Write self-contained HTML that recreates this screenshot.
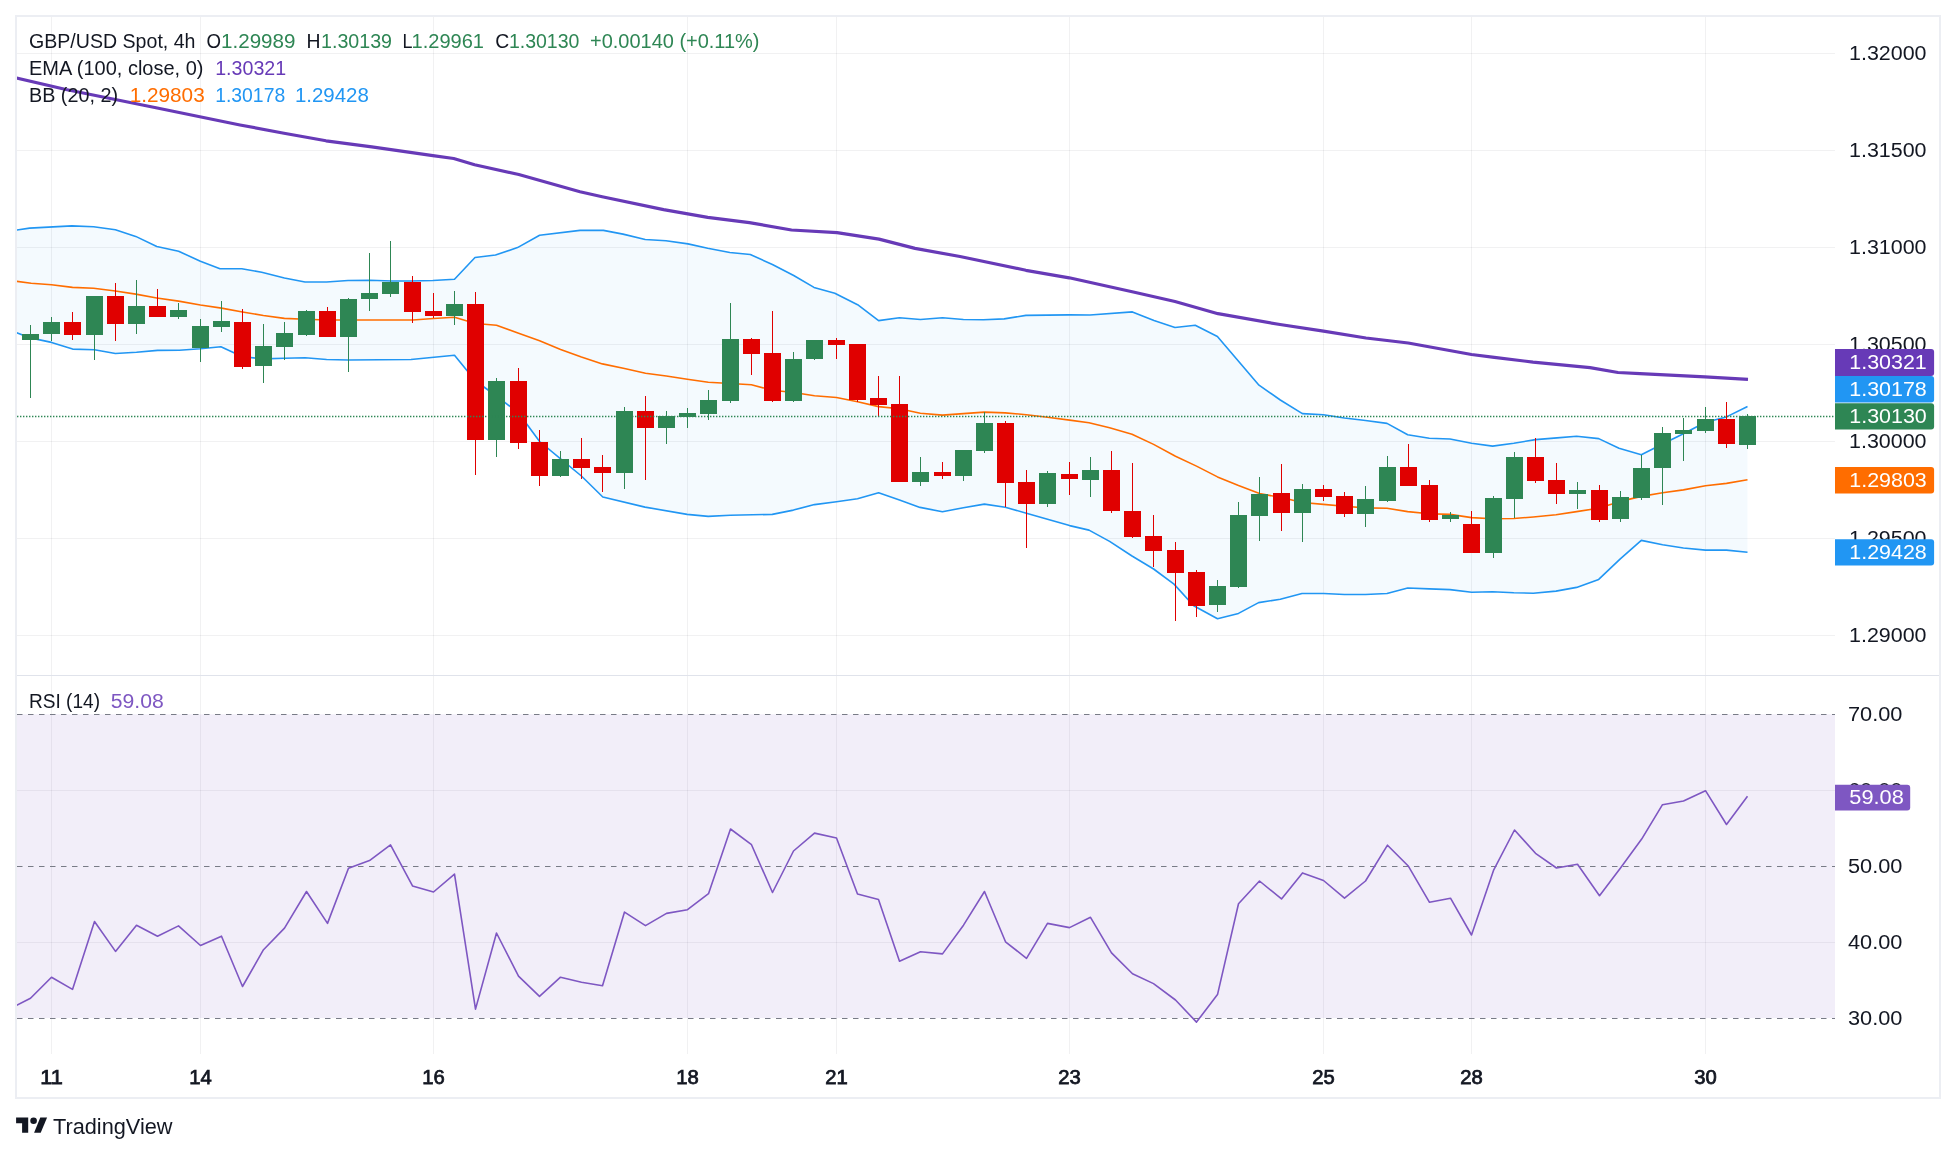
<!DOCTYPE html><html><head><meta charset="utf-8"><title>GBP/USD Spot 4h</title><style>
html,body{margin:0;padding:0;background:#fff;}body{width:1956px;height:1154px;overflow:hidden;}
svg{display:block;font-family:"Liberation Sans",sans-serif;will-change:transform;}
</style></head><body>
<svg width="1956" height="1154" viewBox="0 0 1956 1154">
<rect x="0" y="0" width="1956" height="1154" fill="#ffffff"/>
<defs><clipPath id="cpMain"><rect x="17" y="17" width="1818" height="658"/></clipPath>
<clipPath id="cpRsi"><rect x="17" y="676" width="1818" height="378"/></clipPath></defs>
<line x1="51.5" y1="17" x2="51.5" y2="1054" stroke="rgba(42,46,57,0.065)" stroke-width="1"/>
<line x1="200.5" y1="17" x2="200.5" y2="1054" stroke="rgba(42,46,57,0.065)" stroke-width="1"/>
<line x1="433.5" y1="17" x2="433.5" y2="1054" stroke="rgba(42,46,57,0.065)" stroke-width="1"/>
<line x1="687.5" y1="17" x2="687.5" y2="1054" stroke="rgba(42,46,57,0.065)" stroke-width="1"/>
<line x1="836.5" y1="17" x2="836.5" y2="1054" stroke="rgba(42,46,57,0.065)" stroke-width="1"/>
<line x1="1069.5" y1="17" x2="1069.5" y2="1054" stroke="rgba(42,46,57,0.065)" stroke-width="1"/>
<line x1="1323.5" y1="17" x2="1323.5" y2="1054" stroke="rgba(42,46,57,0.065)" stroke-width="1"/>
<line x1="1471.5" y1="17" x2="1471.5" y2="1054" stroke="rgba(42,46,57,0.065)" stroke-width="1"/>
<line x1="1705.5" y1="17" x2="1705.5" y2="1054" stroke="rgba(42,46,57,0.065)" stroke-width="1"/>
<line x1="17" y1="53.5" x2="1835" y2="53.5" stroke="rgba(42,46,57,0.065)" stroke-width="1"/>
<line x1="17" y1="150.5" x2="1835" y2="150.5" stroke="rgba(42,46,57,0.065)" stroke-width="1"/>
<line x1="17" y1="247.5" x2="1835" y2="247.5" stroke="rgba(42,46,57,0.065)" stroke-width="1"/>
<line x1="17" y1="344.5" x2="1835" y2="344.5" stroke="rgba(42,46,57,0.065)" stroke-width="1"/>
<line x1="17" y1="441.5" x2="1835" y2="441.5" stroke="rgba(42,46,57,0.065)" stroke-width="1"/>
<line x1="17" y1="538.5" x2="1835" y2="538.5" stroke="rgba(42,46,57,0.065)" stroke-width="1"/>
<line x1="17" y1="635.5" x2="1835" y2="635.5" stroke="rgba(42,46,57,0.065)" stroke-width="1"/>
<line x1="17" y1="790.5" x2="1835" y2="790.5" stroke="rgba(42,46,57,0.065)" stroke-width="1"/>
<line x1="17" y1="942.5" x2="1835" y2="942.5" stroke="rgba(42,46,57,0.065)" stroke-width="1"/>
<g clip-path="url(#cpMain)">
<polygon points="16.0,230.1 29.6,228.1 71.8,225.9 93.6,226.7 115.4,229.7 135.7,236.4 156.8,246.5 178.6,251.2 200.4,261.3 220.0,268.8 241.8,268.8 261.7,272.2 284.4,278.0 305.0,282.0 326.6,282.0 348.0,280.5 370.0,280.3 391.6,281.0 411.0,281.0 432.8,280.5 454.5,279.2 475.0,257.5 495.5,255.0 517.5,247.6 539.6,235.3 580.0,230.4 603.4,230.4 623.0,234.1 645.2,239.5 666.0,240.7 688.0,243.9 707.7,248.3 729.8,252.5 750.3,254.5 772.4,264.5 793.7,275.5 814.0,287.4 834.8,293.3 857.6,304.7 878.6,320.6 899.4,317.7 920.4,319.5 942.5,317.7 963.4,319.5 983.4,319.7 1004.2,318.9 1025.9,315.4 1069.2,314.9 1090.0,315.0 1132.4,311.9 1154.0,320.6 1175.0,327.5 1195.2,325.3 1217.4,336.5 1259.0,385.2 1280.3,400.0 1302.4,413.6 1323.4,414.7 1344.4,418.0 1365.5,420.5 1387.0,423.4 1407.7,434.7 1429.3,438.3 1450.0,439.0 1471.6,443.3 1492.6,446.1 1513.8,443.3 1535.5,439.6 1557.0,437.9 1576.6,436.2 1598.7,438.6 1619.0,448.3 1641.3,454.8 1662.6,444.0 1683.4,433.8 1705.5,422.3 1726.5,416.9 1747.5,406.5 1747.5,552.3 1726.5,550.1 1705.5,550.1 1683.4,548.0 1662.6,544.7 1641.3,540.4 1620.3,558.8 1598.7,579.4 1576.6,587.4 1556.0,591.1 1533.3,593.2 1513.8,592.8 1492.6,591.7 1471.6,592.2 1450.0,589.6 1429.3,588.9 1407.7,588.0 1387.0,593.5 1365.5,594.5 1344.4,594.5 1323.6,593.5 1302.0,593.5 1280.3,599.3 1258.6,602.6 1238.5,613.4 1217.5,618.8 1193.7,605.8 1174.0,584.1 1153.6,569.0 1132.0,556.0 1109.6,541.4 1089.0,530.1 1069.6,525.6 1047.5,519.3 1026.4,513.2 1005.2,507.2 984.4,504.1 963.4,507.8 942.4,511.7 920.0,507.4 899.5,500.0 878.6,492.8 857.5,498.8 836.5,501.7 814.5,504.6 793.4,510.1 772.3,514.4 730.2,515.2 708.2,516.4 687.1,514.4 645.0,507.1 602.8,497.0 581.4,476.0 560.6,458.8 539.6,441.5 518.6,413.0 496.5,396.0 475.5,381.0 454.5,355.2 411.0,359.5 348.3,360.0 326.6,359.5 305.0,357.8 284.4,358.3 263.4,358.9 242.6,356.8 220.9,346.8 200.4,348.8 179.3,350.2 157.6,350.4 136.5,352.2 115.4,353.5 94.4,349.7 72.6,349.1 51.5,342.4 30.4,337.9 16.0,332.5" fill="rgba(33,150,243,0.05)"/>
<polyline points="16.0,281.3 31.2,283.2 51.5,284.7 72.5,287.4 93.6,288.2 115.4,291.0 135.7,294.1 156.8,298.0 178.6,301.1 200.4,305.0 221.5,308.1 242.5,312.0 263.4,315.5 284.4,318.4 305.0,319.3 326.6,320.0 348.0,320.0 413.0,320.0 433.5,318.5 454.5,317.3 475.5,323.5 496.5,325.3 518.6,333.2 539.6,340.7 560.6,349.4 581.4,357.0 602.4,363.9 624.5,368.5 645.5,373.2 666.3,376.0 687.3,379.3 708.3,382.3 730.4,383.5 751.4,384.7 772.4,390.3 793.7,392.5 814.5,395.7 836.5,397.5 857.6,401.8 878.6,406.6 899.4,408.7 920.4,413.3 942.4,415.1 963.4,413.6 984.4,412.1 1005.2,412.9 1026.4,414.7 1047.5,417.3 1069.6,420.1 1089.0,422.7 1109.6,427.7 1132.0,434.2 1153.6,444.4 1175.5,456.3 1196.5,466.1 1217.5,476.9 1238.5,485.6 1259.5,493.6 1281.4,497.5 1302.4,502.5 1323.4,504.4 1344.4,506.2 1365.5,507.9 1387.0,508.3 1407.7,511.6 1429.3,513.7 1450.0,514.4 1471.6,517.6 1492.6,518.7 1513.8,518.5 1533.3,517.0 1556.0,514.8 1576.6,511.6 1598.3,508.3 1620.3,501.4 1641.3,496.4 1662.6,492.7 1683.4,489.9 1705.5,485.8 1726.5,483.4 1747.5,479.7" fill="none" stroke="#ff6d00" stroke-width="1.6" stroke-linejoin="round"/>
<polyline points="16.0,230.1 29.6,228.1 71.8,225.9 93.6,226.7 115.4,229.7 135.7,236.4 156.8,246.5 178.6,251.2 200.4,261.3 220.0,268.8 241.8,268.8 261.7,272.2 284.4,278.0 305.0,282.0 326.6,282.0 348.0,280.5 370.0,280.3 391.6,281.0 411.0,281.0 432.8,280.5 454.5,279.2 475.0,257.5 495.5,255.0 517.5,247.6 539.6,235.3 580.0,230.4 603.4,230.4 623.0,234.1 645.2,239.5 666.0,240.7 688.0,243.9 707.7,248.3 729.8,252.5 750.3,254.5 772.4,264.5 793.7,275.5 814.0,287.4 834.8,293.3 857.6,304.7 878.6,320.6 899.4,317.7 920.4,319.5 942.5,317.7 963.4,319.5 983.4,319.7 1004.2,318.9 1025.9,315.4 1069.2,314.9 1090.0,315.0 1132.4,311.9 1154.0,320.6 1175.0,327.5 1195.2,325.3 1217.4,336.5 1259.0,385.2 1280.3,400.0 1302.4,413.6 1323.4,414.7 1344.4,418.0 1365.5,420.5 1387.0,423.4 1407.7,434.7 1429.3,438.3 1450.0,439.0 1471.6,443.3 1492.6,446.1 1513.8,443.3 1535.5,439.6 1557.0,437.9 1576.6,436.2 1598.7,438.6 1619.0,448.3 1641.3,454.8 1662.6,444.0 1683.4,433.8 1705.5,422.3 1726.5,416.9 1747.5,406.5" fill="none" stroke="#2196f3" stroke-width="1.6" stroke-linejoin="round"/>
<polyline points="16.0,332.5 30.4,337.9 51.5,342.4 72.6,349.1 94.4,349.7 115.4,353.5 136.5,352.2 157.6,350.4 179.3,350.2 200.4,348.8 220.9,346.8 242.6,356.8 263.4,358.9 284.4,358.3 305.0,357.8 326.6,359.5 348.3,360.0 411.0,359.5 454.5,355.2 475.5,381.0 496.5,396.0 518.6,413.0 539.6,441.5 560.6,458.8 581.4,476.0 602.8,497.0 645.0,507.1 687.1,514.4 708.2,516.4 730.2,515.2 772.3,514.4 793.4,510.1 814.5,504.6 836.5,501.7 857.5,498.8 878.6,492.8 899.5,500.0 920.0,507.4 942.4,511.7 963.4,507.8 984.4,504.1 1005.2,507.2 1026.4,513.2 1047.5,519.3 1069.6,525.6 1089.0,530.1 1109.6,541.4 1132.0,556.0 1153.6,569.0 1174.0,584.1 1193.7,605.8 1217.5,618.8 1238.5,613.4 1258.6,602.6 1280.3,599.3 1302.0,593.5 1323.6,593.5 1344.4,594.5 1365.5,594.5 1387.0,593.5 1407.7,588.0 1429.3,588.9 1450.0,589.6 1471.6,592.2 1492.6,591.7 1513.8,592.8 1533.3,593.2 1556.0,591.1 1576.6,587.4 1598.7,579.4 1620.3,558.8 1641.3,540.4 1662.6,544.7 1683.4,548.0 1705.5,550.1 1726.5,550.1 1747.5,552.3" fill="none" stroke="#2196f3" stroke-width="1.6" stroke-linejoin="round"/>
<polyline points="16.0,78.0 65.9,89.5 156.0,107.7 240.0,125.0 284.0,133.2 326.0,140.8 371.8,146.9 432.9,155.6 453.7,158.5 474.6,164.7 518.8,174.5 580.0,191.7 602.2,196.8 663.6,209.6 707.7,217.4 749.4,222.6 791.5,230.0 837.0,232.6 879.0,239.1 915.0,248.4 960.0,256.5 1025.9,270.3 1069.2,277.8 1133.3,292.0 1175.0,301.5 1218.0,313.7 1280.0,324.5 1323.5,331.2 1366.0,338.0 1408.2,343.0 1471.5,354.5 1494.3,357.4 1533.0,362.1 1590.0,367.7 1618.0,372.5 1640.0,373.6 1705.0,376.8 1748.0,379.4" fill="none" stroke="#673ab7" stroke-width="3.2" stroke-linejoin="round"/>
<rect x="30" y="325" width="1" height="73" fill="#2e8654"/>
<rect x="22" y="334" width="17" height="6" fill="#2e8654"/>
<rect x="51" y="317" width="1" height="24" fill="#2e8654"/>
<rect x="43" y="322" width="17" height="12" fill="#2e8654"/>
<rect x="72" y="312" width="1" height="28" fill="#e00000"/>
<rect x="64" y="322" width="17" height="13" fill="#e00000"/>
<rect x="94" y="296" width="1" height="64" fill="#2e8654"/>
<rect x="86" y="296" width="17" height="39" fill="#2e8654"/>
<rect x="115" y="283" width="1" height="58" fill="#e00000"/>
<rect x="107" y="296" width="17" height="28" fill="#e00000"/>
<rect x="136" y="280" width="1" height="54" fill="#2e8654"/>
<rect x="128" y="306" width="17" height="18" fill="#2e8654"/>
<rect x="157" y="289" width="1" height="28" fill="#e00000"/>
<rect x="149" y="306" width="17" height="11" fill="#e00000"/>
<rect x="178" y="303" width="1" height="16" fill="#2e8654"/>
<rect x="170" y="310" width="17" height="7" fill="#2e8654"/>
<rect x="200" y="319" width="1" height="43" fill="#2e8654"/>
<rect x="192" y="326" width="17" height="22" fill="#2e8654"/>
<rect x="221" y="301" width="1" height="31" fill="#2e8654"/>
<rect x="213" y="321" width="17" height="6" fill="#2e8654"/>
<rect x="242" y="309" width="1" height="60" fill="#e00000"/>
<rect x="234" y="322" width="17" height="45" fill="#e00000"/>
<rect x="263" y="324" width="1" height="59" fill="#2e8654"/>
<rect x="255" y="346" width="17" height="20" fill="#2e8654"/>
<rect x="284" y="322" width="1" height="38" fill="#2e8654"/>
<rect x="276" y="333" width="17" height="14" fill="#2e8654"/>
<rect x="306" y="310" width="1" height="26" fill="#2e8654"/>
<rect x="298" y="311" width="17" height="24" fill="#2e8654"/>
<rect x="327" y="307" width="1" height="30" fill="#e00000"/>
<rect x="319" y="311" width="17" height="26" fill="#e00000"/>
<rect x="348" y="298" width="1" height="74" fill="#2e8654"/>
<rect x="340" y="299" width="17" height="38" fill="#2e8654"/>
<rect x="369" y="253" width="1" height="58" fill="#2e8654"/>
<rect x="361" y="293" width="17" height="6" fill="#2e8654"/>
<rect x="390" y="241" width="1" height="56" fill="#2e8654"/>
<rect x="382" y="282" width="17" height="12" fill="#2e8654"/>
<rect x="412" y="276" width="1" height="47" fill="#e00000"/>
<rect x="404" y="282" width="17" height="30" fill="#e00000"/>
<rect x="433" y="293" width="1" height="25" fill="#e00000"/>
<rect x="425" y="311" width="17" height="5" fill="#e00000"/>
<rect x="454" y="291" width="1" height="34" fill="#2e8654"/>
<rect x="446" y="304" width="17" height="12" fill="#2e8654"/>
<rect x="475" y="292" width="1" height="183" fill="#e00000"/>
<rect x="467" y="304" width="17" height="136" fill="#e00000"/>
<rect x="496" y="378" width="1" height="79" fill="#2e8654"/>
<rect x="488" y="381" width="17" height="59" fill="#2e8654"/>
<rect x="518" y="368" width="1" height="81" fill="#e00000"/>
<rect x="510" y="381" width="17" height="62" fill="#e00000"/>
<rect x="539" y="430" width="1" height="56" fill="#e00000"/>
<rect x="531" y="442" width="17" height="34" fill="#e00000"/>
<rect x="560" y="451" width="1" height="26" fill="#2e8654"/>
<rect x="552" y="459" width="17" height="17" fill="#2e8654"/>
<rect x="581" y="438" width="1" height="41" fill="#e00000"/>
<rect x="573" y="459" width="17" height="9" fill="#e00000"/>
<rect x="602" y="455" width="1" height="37" fill="#e00000"/>
<rect x="594" y="467" width="17" height="6" fill="#e00000"/>
<rect x="624" y="407" width="1" height="82" fill="#2e8654"/>
<rect x="616" y="411" width="17" height="62" fill="#2e8654"/>
<rect x="645" y="396" width="1" height="84" fill="#e00000"/>
<rect x="637" y="411" width="17" height="17" fill="#e00000"/>
<rect x="666" y="411" width="1" height="33" fill="#2e8654"/>
<rect x="658" y="416" width="17" height="12" fill="#2e8654"/>
<rect x="687" y="408" width="1" height="20" fill="#2e8654"/>
<rect x="679" y="413" width="17" height="4" fill="#2e8654"/>
<rect x="708" y="390" width="1" height="30" fill="#2e8654"/>
<rect x="700" y="400" width="17" height="14" fill="#2e8654"/>
<rect x="730" y="303" width="1" height="100" fill="#2e8654"/>
<rect x="722" y="339" width="17" height="62" fill="#2e8654"/>
<rect x="751" y="338" width="1" height="37" fill="#e00000"/>
<rect x="743" y="339" width="17" height="15" fill="#e00000"/>
<rect x="772" y="311" width="1" height="91" fill="#e00000"/>
<rect x="764" y="353" width="17" height="48" fill="#e00000"/>
<rect x="793" y="352" width="1" height="50" fill="#2e8654"/>
<rect x="785" y="359" width="17" height="42" fill="#2e8654"/>
<rect x="814" y="340" width="1" height="20" fill="#2e8654"/>
<rect x="806" y="340" width="17" height="19" fill="#2e8654"/>
<rect x="836" y="338" width="1" height="21" fill="#e00000"/>
<rect x="828" y="340" width="17" height="5" fill="#e00000"/>
<rect x="857" y="344" width="1" height="58" fill="#e00000"/>
<rect x="849" y="344" width="17" height="56" fill="#e00000"/>
<rect x="878" y="376" width="1" height="41" fill="#e00000"/>
<rect x="870" y="398" width="17" height="7" fill="#e00000"/>
<rect x="899" y="376" width="1" height="106" fill="#e00000"/>
<rect x="891" y="404" width="17" height="78" fill="#e00000"/>
<rect x="920" y="457" width="1" height="29" fill="#2e8654"/>
<rect x="912" y="472" width="17" height="10" fill="#2e8654"/>
<rect x="942" y="462" width="1" height="17" fill="#e00000"/>
<rect x="934" y="472" width="17" height="4" fill="#e00000"/>
<rect x="963" y="450" width="1" height="31" fill="#2e8654"/>
<rect x="955" y="450" width="17" height="26" fill="#2e8654"/>
<rect x="984" y="412" width="1" height="41" fill="#2e8654"/>
<rect x="976" y="423" width="17" height="28" fill="#2e8654"/>
<rect x="1005" y="421" width="1" height="86" fill="#e00000"/>
<rect x="997" y="423" width="17" height="60" fill="#e00000"/>
<rect x="1026" y="470" width="1" height="78" fill="#e00000"/>
<rect x="1018" y="482" width="17" height="22" fill="#e00000"/>
<rect x="1047" y="471" width="1" height="36" fill="#2e8654"/>
<rect x="1039" y="473" width="17" height="31" fill="#2e8654"/>
<rect x="1069" y="462" width="1" height="33" fill="#e00000"/>
<rect x="1061" y="474" width="17" height="5" fill="#e00000"/>
<rect x="1090" y="457" width="1" height="40" fill="#2e8654"/>
<rect x="1082" y="470" width="17" height="10" fill="#2e8654"/>
<rect x="1111" y="451" width="1" height="62" fill="#e00000"/>
<rect x="1103" y="470" width="17" height="41" fill="#e00000"/>
<rect x="1132" y="463" width="1" height="75" fill="#e00000"/>
<rect x="1124" y="511" width="17" height="26" fill="#e00000"/>
<rect x="1153" y="515" width="1" height="52" fill="#e00000"/>
<rect x="1145" y="536" width="17" height="15" fill="#e00000"/>
<rect x="1175" y="542" width="1" height="79" fill="#e00000"/>
<rect x="1167" y="550" width="17" height="23" fill="#e00000"/>
<rect x="1196" y="570" width="1" height="47" fill="#e00000"/>
<rect x="1188" y="572" width="17" height="34" fill="#e00000"/>
<rect x="1217" y="580" width="1" height="32" fill="#2e8654"/>
<rect x="1209" y="586" width="17" height="19" fill="#2e8654"/>
<rect x="1238" y="502" width="1" height="86" fill="#2e8654"/>
<rect x="1230" y="515" width="17" height="72" fill="#2e8654"/>
<rect x="1259" y="477" width="1" height="64" fill="#2e8654"/>
<rect x="1251" y="494" width="17" height="22" fill="#2e8654"/>
<rect x="1281" y="464" width="1" height="67" fill="#e00000"/>
<rect x="1273" y="493" width="17" height="20" fill="#e00000"/>
<rect x="1302" y="484" width="1" height="58" fill="#2e8654"/>
<rect x="1294" y="489" width="17" height="24" fill="#2e8654"/>
<rect x="1323" y="485" width="1" height="16" fill="#e00000"/>
<rect x="1315" y="489" width="17" height="8" fill="#e00000"/>
<rect x="1344" y="492" width="1" height="25" fill="#e00000"/>
<rect x="1336" y="496" width="17" height="18" fill="#e00000"/>
<rect x="1365" y="486" width="1" height="41" fill="#2e8654"/>
<rect x="1357" y="499" width="17" height="15" fill="#2e8654"/>
<rect x="1387" y="456" width="1" height="46" fill="#2e8654"/>
<rect x="1379" y="467" width="17" height="34" fill="#2e8654"/>
<rect x="1408" y="444" width="1" height="42" fill="#e00000"/>
<rect x="1400" y="467" width="17" height="19" fill="#e00000"/>
<rect x="1429" y="480" width="1" height="42" fill="#e00000"/>
<rect x="1421" y="485" width="17" height="35" fill="#e00000"/>
<rect x="1450" y="512" width="1" height="10" fill="#2e8654"/>
<rect x="1442" y="515" width="17" height="4" fill="#2e8654"/>
<rect x="1471" y="511" width="1" height="42" fill="#e00000"/>
<rect x="1463" y="524" width="17" height="29" fill="#e00000"/>
<rect x="1493" y="496" width="1" height="62" fill="#2e8654"/>
<rect x="1485" y="498" width="17" height="55" fill="#2e8654"/>
<rect x="1514" y="452" width="1" height="66" fill="#2e8654"/>
<rect x="1506" y="457" width="17" height="42" fill="#2e8654"/>
<rect x="1535" y="438" width="1" height="45" fill="#e00000"/>
<rect x="1527" y="457" width="17" height="24" fill="#e00000"/>
<rect x="1556" y="463" width="1" height="41" fill="#e00000"/>
<rect x="1548" y="480" width="17" height="14" fill="#e00000"/>
<rect x="1577" y="482" width="1" height="27" fill="#2e8654"/>
<rect x="1569" y="490" width="17" height="4" fill="#2e8654"/>
<rect x="1599" y="485" width="1" height="37" fill="#e00000"/>
<rect x="1591" y="490" width="17" height="30" fill="#e00000"/>
<rect x="1620" y="491" width="1" height="31" fill="#2e8654"/>
<rect x="1612" y="497" width="17" height="22" fill="#2e8654"/>
<rect x="1641" y="455" width="1" height="45" fill="#2e8654"/>
<rect x="1633" y="468" width="17" height="30" fill="#2e8654"/>
<rect x="1662" y="427" width="1" height="78" fill="#2e8654"/>
<rect x="1654" y="433" width="17" height="35" fill="#2e8654"/>
<rect x="1683" y="418" width="1" height="43" fill="#2e8654"/>
<rect x="1675" y="430" width="17" height="4" fill="#2e8654"/>
<rect x="1705" y="407" width="1" height="26" fill="#2e8654"/>
<rect x="1697" y="419" width="17" height="12" fill="#2e8654"/>
<rect x="1726" y="402" width="1" height="46" fill="#e00000"/>
<rect x="1718" y="419" width="17" height="25" fill="#e00000"/>
<rect x="1747" y="414" width="1" height="35" fill="#2e8654"/>
<rect x="1739" y="416" width="17" height="29" fill="#2e8654"/>
<line x1="17" y1="416.5" x2="1835" y2="416.5" stroke="#2e8654" stroke-width="1.3" stroke-dasharray="1.4,1.6"/>
</g>
<rect x="17" y="675" width="1923" height="1" fill="#e0e3eb"/>
<g clip-path="url(#cpRsi)">
<rect x="17" y="714.3" width="1818" height="303.7" fill="rgba(126,87,194,0.1)"/>
<line x1="17" y1="714.5" x2="1835" y2="714.5" stroke="#787b86" stroke-width="1" stroke-dasharray="5.5,5.5"/>
<line x1="17" y1="866.5" x2="1835" y2="866.5" stroke="#787b86" stroke-width="1" stroke-dasharray="5.5,5.5"/>
<line x1="17" y1="1018.5" x2="1835" y2="1018.5" stroke="#787b86" stroke-width="1" stroke-dasharray="5.5,5.5"/>
<polyline points="16.0,1005.6 30.5,998.3 51.5,977.2 72.5,989.4 94.5,921.5 115.5,951.4 136.5,925.2 157.5,936.2 178.5,925.9 200.5,945.5 221.5,936.2 242.5,986.5 263.5,949.7 284.5,928.1 306.5,891.5 327.5,923.4 348.5,868.2 369.5,860.6 390.5,844.9 412.5,885.9 433.5,892.0 454.5,874.1 475.5,1009.1 496.5,933.0 518.5,976.2 539.5,996.3 560.5,977.2 581.5,982.3 602.5,985.8 624.5,912.1 645.5,925.6 666.5,913.4 687.5,909.7 708.5,893.7 730.5,829.0 751.5,844.7 772.5,892.5 793.5,851.0 814.5,833.1 836.5,838.0 857.5,894.0 878.5,899.4 899.5,961.2 920.5,951.7 942.5,953.9 963.5,925.2 984.5,891.5 1005.5,941.8 1026.5,958.3 1047.5,923.4 1069.5,927.6 1090.5,917.3 1111.5,952.9 1132.5,973.7 1153.5,983.6 1175.5,1000.0 1196.5,1022.1 1217.5,994.6 1238.5,903.8 1259.5,881.0 1281.5,898.9 1302.5,872.9 1323.5,880.5 1344.5,898.2 1365.5,881.0 1387.5,845.2 1408.5,866.3 1429.5,902.3 1450.5,898.2 1471.5,935.0 1493.5,870.4 1514.5,830.0 1535.5,853.3 1556.5,868.0 1577.5,864.3 1599.5,895.7 1620.5,868.0 1641.5,839.3 1662.5,804.7 1683.5,801.0 1705.5,790.7 1726.5,824.5 1747.5,796.3" fill="none" stroke="#7e57c2" stroke-width="1.6" stroke-linejoin="round"/>
</g>
<rect x="16" y="16" width="1924" height="1082" fill="none" stroke="#eceef3" stroke-width="2"/>
<text x="29.0" y="47.9" fill="#131722" font-size="19.3" textLength="166.5" lengthAdjust="spacingAndGlyphs">GBP/USD Spot, 4h</text>
<text x="206.5" y="47.9" fill="#131722" font-size="19.3" textLength="14.5" lengthAdjust="spacingAndGlyphs">O</text>
<text x="221.0" y="47.9" fill="#2e8654" font-size="19.3" textLength="74.5" lengthAdjust="spacingAndGlyphs">1.29989</text>
<text x="306.5" y="47.9" fill="#131722" font-size="19.3" textLength="14.0" lengthAdjust="spacingAndGlyphs">H</text>
<text x="321.0" y="47.9" fill="#2e8654" font-size="19.3" textLength="71.0" lengthAdjust="spacingAndGlyphs">1.30139</text>
<text x="402.5" y="47.9" fill="#131722" font-size="19.3" textLength="10.0" lengthAdjust="spacingAndGlyphs">L</text>
<text x="411.5" y="47.9" fill="#2e8654" font-size="19.3" textLength="72.5" lengthAdjust="spacingAndGlyphs">1.29961</text>
<text x="495.2" y="47.9" fill="#131722" font-size="19.3" textLength="14.0" lengthAdjust="spacingAndGlyphs">C</text>
<text x="508.9" y="47.9" fill="#2e8654" font-size="19.3" textLength="70.5" lengthAdjust="spacingAndGlyphs">1.30130</text>
<text x="590.0" y="47.9" fill="#2e8654" font-size="19.3" textLength="169.5" lengthAdjust="spacingAndGlyphs">+0.00140 (+0.11%)</text>
<text x="29.0" y="75.1" fill="#131722" font-size="19.3" textLength="174.5" lengthAdjust="spacingAndGlyphs">EMA (100, close, 0)</text>
<text x="215.2" y="75.1" fill="#673ab7" font-size="19.3" textLength="71.0" lengthAdjust="spacingAndGlyphs">1.30321</text>
<text x="29.0" y="102.0" fill="#131722" font-size="19.3" textLength="89.0" lengthAdjust="spacingAndGlyphs">BB (20, 2)</text>
<text x="129.7" y="102.0" fill="#ff6d00" font-size="19.3" textLength="75.0" lengthAdjust="spacingAndGlyphs">1.29803</text>
<text x="215.2" y="102.0" fill="#2196f3" font-size="19.3" textLength="70.0" lengthAdjust="spacingAndGlyphs">1.30178</text>
<text x="294.9" y="102.0" fill="#2196f3" font-size="19.3" textLength="73.9" lengthAdjust="spacingAndGlyphs">1.29428</text>
<text x="29.0" y="708.2" fill="#131722" font-size="19.3" textLength="71.0" lengthAdjust="spacingAndGlyphs">RSI (14)</text>
<text x="110.8" y="708.2" fill="#7e57c2" font-size="19.3" textLength="53.0" lengthAdjust="spacingAndGlyphs">59.08</text>
<text x="1849.0" y="59.9" fill="#131722" font-size="19.3" textLength="77.5" lengthAdjust="spacingAndGlyphs">1.32000</text>
<text x="1849.0" y="156.9" fill="#131722" font-size="19.3" textLength="77.5" lengthAdjust="spacingAndGlyphs">1.31500</text>
<text x="1849.0" y="253.8" fill="#131722" font-size="19.3" textLength="77.5" lengthAdjust="spacingAndGlyphs">1.31000</text>
<text x="1849.0" y="350.8" fill="#131722" font-size="19.3" textLength="77.5" lengthAdjust="spacingAndGlyphs">1.30500</text>
<text x="1849.0" y="447.7" fill="#131722" font-size="19.3" textLength="77.5" lengthAdjust="spacingAndGlyphs">1.30000</text>
<text x="1849.0" y="544.7" fill="#131722" font-size="19.3" textLength="77.5" lengthAdjust="spacingAndGlyphs">1.29500</text>
<text x="1849.0" y="641.6" fill="#131722" font-size="19.3" textLength="77.5" lengthAdjust="spacingAndGlyphs">1.29000</text>
<text x="1848.0" y="720.9" fill="#131722" font-size="19.3" textLength="54.5" lengthAdjust="spacingAndGlyphs">70.00</text>
<text x="1848.0" y="796.8" fill="#131722" font-size="19.3" textLength="54.5" lengthAdjust="spacingAndGlyphs">60.00</text>
<text x="1848.0" y="872.8" fill="#131722" font-size="19.3" textLength="54.5" lengthAdjust="spacingAndGlyphs">50.00</text>
<text x="1848.0" y="948.7" fill="#131722" font-size="19.3" textLength="54.5" lengthAdjust="spacingAndGlyphs">40.00</text>
<text x="1848.0" y="1024.6" fill="#131722" font-size="19.3" textLength="54.5" lengthAdjust="spacingAndGlyphs">30.00</text>
<path d="M1835.0,349.0 H1931.1 Q1934.1,349.0 1934.1,352.0 V372.9 Q1934.1,375.9 1931.1,375.9 H1835.0 Z" fill="#673ab7"/>
<text x="1849.3" y="369.1" fill="#ffffff" font-size="19.3" textLength="77.5" lengthAdjust="spacingAndGlyphs">1.30321</text>
<path d="M1835.0,375.9 H1931.1 Q1934.1,375.9 1934.1,378.9 V399.5 Q1934.1,402.5 1931.1,402.5 H1835.0 Z" fill="#2196f3"/>
<text x="1849.3" y="395.8" fill="#ffffff" font-size="19.3" textLength="77.5" lengthAdjust="spacingAndGlyphs">1.30178</text>
<path d="M1835.0,403.2 H1931.1 Q1934.1,403.2 1934.1,406.2 V426.6 Q1934.1,429.6 1931.1,429.6 H1835.0 Z" fill="#2e8654"/>
<text x="1849.3" y="423.0" fill="#ffffff" font-size="19.3" textLength="77.5" lengthAdjust="spacingAndGlyphs">1.30130</text>
<path d="M1835.0,466.9 H1931.1 Q1934.1,466.9 1934.1,469.9 V490.5 Q1934.1,493.5 1931.1,493.5 H1835.0 Z" fill="#ff6d00"/>
<text x="1849.3" y="486.8" fill="#ffffff" font-size="19.3" textLength="77.5" lengthAdjust="spacingAndGlyphs">1.29803</text>
<path d="M1835.0,539.2 H1931.1 Q1934.1,539.2 1934.1,542.2 V562.6 Q1934.1,565.6 1931.1,565.6 H1835.0 Z" fill="#2196f3"/>
<text x="1849.3" y="559.0" fill="#ffffff" font-size="19.3" textLength="77.5" lengthAdjust="spacingAndGlyphs">1.29428</text>
<path d="M1835.0,784.7 H1907.2 Q1910.2,784.7 1910.2,787.7 V807.5 Q1910.2,810.5 1907.2,810.5 H1835.0 Z" fill="#7e57c2"/>
<text x="1849.3" y="804.2" fill="#ffffff" font-size="19.3" textLength="54.5" lengthAdjust="spacingAndGlyphs">59.08</text>
<text x="51.5" y="1084.2" fill="#131722" font-size="19.3" stroke="#131722" stroke-width="0.75" text-anchor="middle" textLength="22.5" lengthAdjust="spacingAndGlyphs">11</text>
<text x="200.5" y="1084.2" fill="#131722" font-size="19.3" stroke="#131722" stroke-width="0.75" text-anchor="middle" textLength="22.5" lengthAdjust="spacingAndGlyphs">14</text>
<text x="433.5" y="1084.2" fill="#131722" font-size="19.3" stroke="#131722" stroke-width="0.75" text-anchor="middle" textLength="22.5" lengthAdjust="spacingAndGlyphs">16</text>
<text x="687.5" y="1084.2" fill="#131722" font-size="19.3" stroke="#131722" stroke-width="0.75" text-anchor="middle" textLength="22.5" lengthAdjust="spacingAndGlyphs">18</text>
<text x="836.5" y="1084.2" fill="#131722" font-size="19.3" stroke="#131722" stroke-width="0.75" text-anchor="middle" textLength="22.5" lengthAdjust="spacingAndGlyphs">21</text>
<text x="1069.5" y="1084.2" fill="#131722" font-size="19.3" stroke="#131722" stroke-width="0.75" text-anchor="middle" textLength="22.5" lengthAdjust="spacingAndGlyphs">23</text>
<text x="1323.5" y="1084.2" fill="#131722" font-size="19.3" stroke="#131722" stroke-width="0.75" text-anchor="middle" textLength="22.5" lengthAdjust="spacingAndGlyphs">25</text>
<text x="1471.5" y="1084.2" fill="#131722" font-size="19.3" stroke="#131722" stroke-width="0.75" text-anchor="middle" textLength="22.5" lengthAdjust="spacingAndGlyphs">28</text>
<text x="1705.5" y="1084.2" fill="#131722" font-size="19.3" stroke="#131722" stroke-width="0.75" text-anchor="middle" textLength="22.5" lengthAdjust="spacingAndGlyphs">30</text>
<g fill="#131722">
<path d="M16.1,1117.5 H28.2 V1132.7 H22.1 V1123.2 H16.1 Z"/>
<circle cx="33.6" cy="1120.8" r="3.3"/>
<path d="M40.3,1117.5 H47.1 L40.7,1132.7 H34.1 Z"/>
</g>
<text x="53.0" y="1134.1" fill="#131722" font-size="22" textLength="119.5" lengthAdjust="spacingAndGlyphs">TradingView</text>
</svg></body></html>
